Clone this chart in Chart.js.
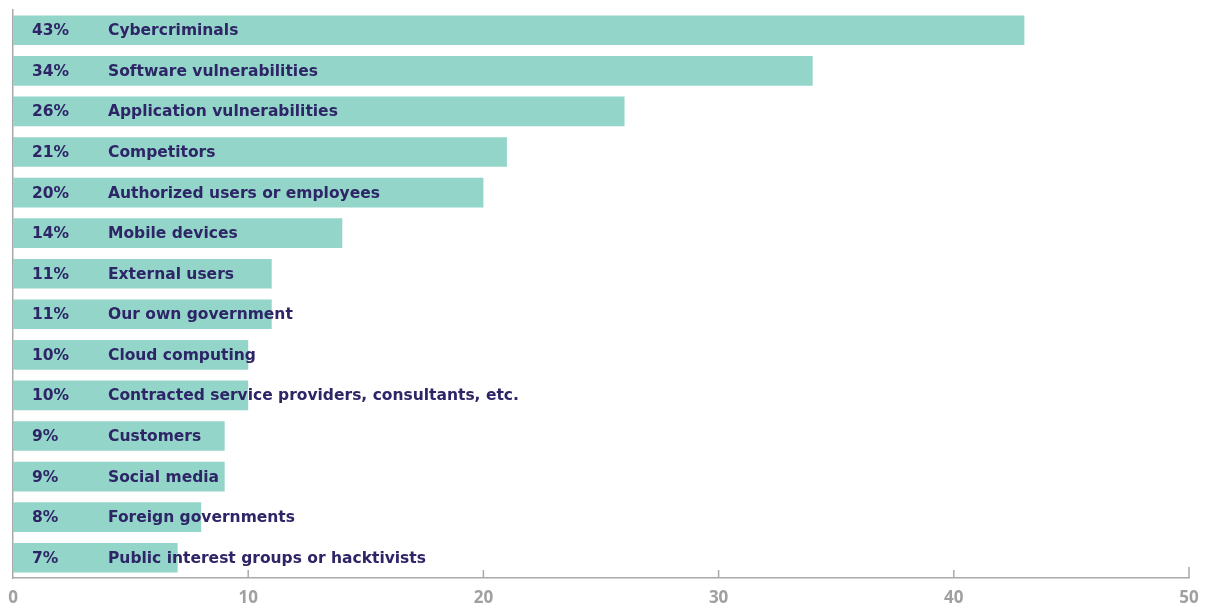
<!DOCTYPE html>
<html>
<head>
<meta charset="utf-8">
<script src="https://cdn.jsdelivr.net/npm/chart.js@4/dist/chart.umd.min.js"></script>
<style>
  html, body { margin: 0; padding: 0; background: #ffffff; }
  #wrap { width: 1205px; height: 608px; position: relative; }
</style>
</head>
<body>
<div id="wrap"><canvas id="chart"></canvas></div>
<script>
// Threat sources, share of respondents (%)
const categories = [
  "Cybercriminals",
  "Software vulnerabilities",
  "Application vulnerabilities",
  "Competitors",
  "Authorized users or employees",
  "Mobile devices",
  "External users",
  "Our own government",
  "Cloud computing",
  "Contracted service providers, consultants, etc.",
  "Customers",
  "Social media",
  "Foreign governments",
  "Public interest groups or hacktivists"
];
const shares = [43, 34, 26, 21, 20, 14, 11, 11, 10, 10, 9, 9, 8, 7];
const xTicks = [0, 10, 20, 30, 40, 50];

const BAR_COLOR = "#94d5ca";
const TEXT_COLOR = "#2d2566";
const AXIS_COLOR = "#a9a9a9";
const LABEL_FONT = "bold 15.5px 'DejaVu Sans', sans-serif";

// Writes the percentage and the category name over each bar
const barLabels = {
  id: "barLabels",
  afterDatasetsDraw(chart) {
    const { ctx, chartArea } = chart;
    const meta = chart.getDatasetMeta(0);
    ctx.save();
    ctx.font = LABEL_FONT;
    ctx.fillStyle = TEXT_COLOR;
    ctx.textBaseline = "middle";
    ctx.textAlign = "left";
    meta.data.forEach((bar, i) => {
      const y = bar.y + 1;
      ctx.fillText(shares[i] + "%", chartArea.left + 19, y);
      ctx.fillText(categories[i], chartArea.left + 95, y);
    });
    ctx.restore();
  }
};

// Short tick marks standing up from the value axis
const upTicks = {
  id: "upTicks",
  afterDraw(chart) {
    const { ctx } = chart;
    const x = chart.scales.x;
    const yBottom = chart.chartArea.bottom;
    ctx.save();
    ctx.strokeStyle = AXIS_COLOR;
    ctx.lineWidth = 1.5;
    xTicks.forEach((v, i) => {
      if (v === 0) return;
      const px = x.getPixelForValue(v);
      const len = (i === xTicks.length - 1) ? 11 : 8;
      ctx.beginPath();
      ctx.moveTo(px, yBottom);
      ctx.lineTo(px, yBottom - len);
      ctx.stroke();
    });
    ctx.restore();
  }
};

new Chart(document.getElementById("chart"), {
  type: "bar",
  data: {
    labels: categories,
    datasets: [{
      data: shares,
      backgroundColor: BAR_COLOR,
      borderWidth: 0,
      barPercentage: 0.73,
      categoryPercentage: 1.0
    }]
  },
  options: {
    indexAxis: "y",
    responsive: true,
    maintainAspectRatio: false,
    animation: false,
    layout: { padding: { left: 13, right: 16, top: 10, bottom: 0 } },
    plugins: {
      legend: { display: false },
      tooltip: { enabled: false }
    },
    scales: {
      x: {
        min: 0,
        max: 50,
        afterBuildTicks(scale) {
          scale.ticks = xTicks.map(v => ({ value: v }));
        },
        afterFit(scale) {
          scale.height = 30;
          scale.paddingLeft = 0;
          scale.paddingRight = 0;
        },
        grid: { display: false, drawTicks: false },
        border: { display: true, color: AXIS_COLOR, width: 1.5 },
        ticks: {
          color: "#a0a0a0",
          padding: 10,
          font: { family: "'Open Sans', sans-serif", size: 17, weight: "bold" }
        }
      },
      y: {
        afterFit(scale) { scale.width = 0; },
        grid: { display: false, drawTicks: false },
        border: { display: true, color: AXIS_COLOR, width: 1.5 },
        ticks: { display: false }
      }
    }
  },
  plugins: [barLabels, upTicks]
});
</script>
</body>
</html>
